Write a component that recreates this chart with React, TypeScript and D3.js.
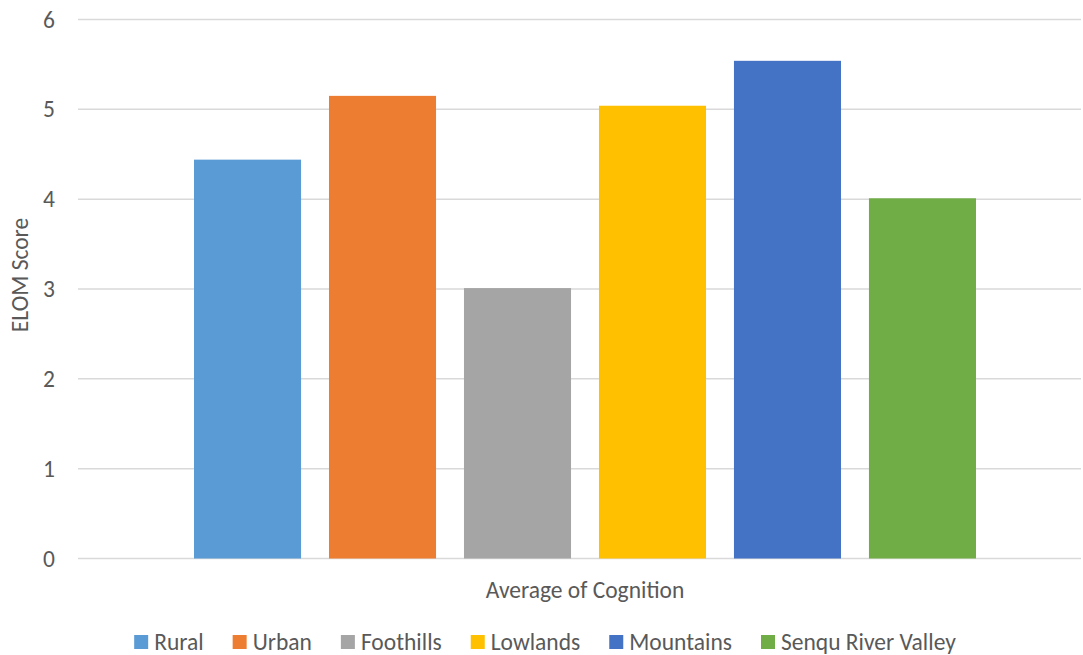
import React, { useEffect, useRef } from "react";
import * as d3 from "d3";

// Average ELOM cognition score by region
const categories = ["Average of Cognition"];
const seriesNames = ["Rural", "Urban", "Foothills", "Lowlands", "Mountains", "Senqu River Valley"];
const seriesValues = [4.44, 5.15, 3.01, 5.04, 5.54, 4.01];
const seriesColors = ["#5B9BD5", "#ED7D31", "#A5A5A5", "#FFC000", "#4472C4", "#70AD47"];
const yTicks = [0, 1, 2, 3, 4, 5, 6];

const W = 1083;
const H = 655;
const FONT = "Carlito, Calibri, Lato, 'Open Sans', sans-serif";
const FS = 23.5;
const TEXT = "#595959";

export default function App() {
  const legendRef = useRef<SVGGElement>(null);

  const plotLeft = 78;
  const plotRight = 1081;
  const plotTop = 19.5;
  const plotBottom = 558.5;

  const y = d3.scaleLinear().domain([0, 6]).range([plotBottom, plotTop]);
  const x1 = d3
    .scaleBand<string>()
    .domain(seriesNames)
    .range([194, 976])
    .paddingInner(0.207)
    .paddingOuter(0);

  // Lay the legend out from measured label widths, centred under the chart
  useEffect(() => {
    const g = legendRef.current;
    if (!g) return;
    const sel = d3.select(g);
    sel.selectAll("*").remove();
    const sw = 14;
    const gapText = 6;
    const gapItem = 29;
    const items = sel
      .selectAll("g.item")
      .data(seriesNames)
      .enter()
      .append("g")
      .attr("class", "item");
    items
      .append("text")
      .text((d) => d)
      .attr("font-family", FONT)
      .attr("font-size", FS)
      .attr("fill", TEXT)
      .attr("dominant-baseline", "central")
      .attr("y", 0);
    const widths: number[] = [];
    items.each(function () {
      widths.push((d3.select(this).select("text").node() as SVGTextElement).getComputedTextLength());
    });
    const total =
      widths.reduce((a, b) => a + b, 0) + seriesNames.length * (sw + gapText) + (seriesNames.length - 1) * gapItem;
    let cx = (137 + 953) / 2 - total / 2;
    items.each(function (_d, i) {
      const it = d3.select(this);
      it.attr("transform", `translate(${cx},642)`);
      it.insert("rect", "text")
        .attr("x", 0)
        .attr("y", -7)
        .attr("width", sw)
        .attr("height", sw)
        .attr("fill", seriesColors[i]);
      it.select("text").attr("x", sw + gapText);
      cx += sw + gapText + widths[i] + gapItem;
    });
  }, []);

  return (
    <svg
      width={W}
      height={H}
      style={{ position: "absolute", left: 0, top: 0, background: "#fff" }}
      fontFamily={FONT}
    >
      <rect width={W} height={H} fill="#fff" />
      {yTicks.map((t) => (
        <g key={t}>
          <line x1={plotLeft} x2={plotRight} y1={y(t)} y2={y(t)} stroke="#D9D9D9" strokeWidth={1.5} />
          <text x={55} y={y(t)} textAnchor="end" dominantBaseline="central" fontSize={FS} fill={TEXT}>
            {t}
          </text>
        </g>
      ))}
      {categories.map((c) => (
        <g key={c}>
          {seriesNames.map((s, i) => (
            <rect
              key={s}
              x={x1(s)}
              y={y(seriesValues[i])}
              width={x1.bandwidth()}
              height={y(0) - y(seriesValues[i])}
              fill={seriesColors[i]}
            />
          ))}
          <text
            x={585}
            y={590}
            textAnchor="middle"
            dominantBaseline="central"
            fontSize={FS}
            fill={TEXT}
          >
            {c}
          </text>
        </g>
      ))}
      <text
        transform={`translate(20,${(plotTop + plotBottom) / 2 - 14}) rotate(-90)`}
        textAnchor="middle"
        dominantBaseline="central"
        fontSize={FS}
        fill={TEXT}
      >
        ELOM Score
      </text>
      <g ref={legendRef} />
    </svg>
  );
}
